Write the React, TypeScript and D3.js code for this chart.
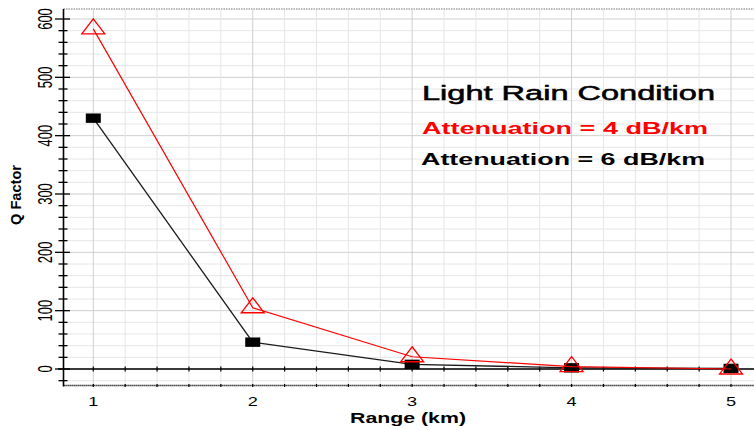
import React from "react";
import * as d3 from "d3";

const ranges = [1, 2, 3, 4, 5];
const redSeries = [583, 105, 21, 4, 0];
const blackSeries = [430, 46, 8, 2, 1];
const xTickLabels = ["1", "2", "3", "4", "5"];
const yTickValues = [0, 100, 200, 300, 400, 500, 600];
const legendTitle = "Light Rain Condition";
const redLabel = "Attenuation = 4 dB/km";
const blackLabel = "Attenuation = 6 dB/km";
const xTitle = "Range (km)";
const yTitle = "Q Factor";

const W = 754;
const H = 430;
const FONT = "'Liberation Sans', Arial, sans-serif";

export default function App() {
  const x = d3.scaleLinear().domain([1, 5]).range([93.3, 731]);
  const y = d3.scaleLinear().domain([0, 600]).range([369, 19]);
  const axisX = 63.5;
  const topY = 9;
  const bottomY = 385.5;

  const vGrid = d3.range(1, 5.21, 0.2);
  const hGrid = d3.range(-20, 601, 20);
  const minorYTicks = d3.range(-20, 601, 20);
  const xMinor = d3.range(1, 5.21, 0.2);

  const line = d3
    .line<number>()
    .x((_, i) => x(ranges[i]))
    .y((d) => y(d));

  const isMajorX = (v: number) => Math.abs(v - Math.round(v)) < 1e-6;
  const isMajorY = (v: number) => Math.abs(v % 100) < 1e-6;

  return (
    <svg
      width={W}
      height={H}
      style={{ position: "absolute", left: 0, top: 0, background: "#fff" }}
      fontFamily={FONT}
    >
      <rect x={0} y={0} width={W} height={H} fill="#fff" />
      {/* top dotted border */}
      <line x1={axisX} x2={W} y1={topY} y2={topY} stroke="#777" strokeWidth={1.2} strokeDasharray="1.5,1" />
      {/* grid */}
      {hGrid.map((v) => (
        <line
          key={"h" + v}
          x1={axisX}
          x2={W}
          y1={y(v)}
          y2={y(v)}
          stroke={isMajorY(v) ? "#cfcfcf" : "#e6e6e6"}
          strokeWidth={1}
        />
      ))}
      {vGrid.map((v) => (
        <line
          key={"v" + v}
          x1={x(v)}
          x2={x(v)}
          y1={topY + 1}
          y2={bottomY}
          stroke={isMajorX(v) ? "#cfcfcf" : "#e6e6e6"}
          strokeWidth={1}
        />
      ))}
      {/* zero line */}
      <line x1={58} x2={W} y1={y(0)} y2={y(0)} stroke="#000" strokeWidth={1.3} />
      {xMinor.map((v) => (
        <line key={"zt" + v} x1={x(v)} x2={x(v)} y1={y(0) - 2.5} y2={y(0) + 2.5} stroke="#000" strokeWidth={1.2} />
      ))}
      {/* bottom dotted line */}
      <line x1={axisX} x2={W} y1={bottomY} y2={bottomY} stroke="#000" strokeWidth={1.6} strokeDasharray="1.2,0.8" />
      {xMinor.map((v) => (
        <line key={"bt" + v} x1={x(v)} x2={x(v)} y1={bottomY - 1.5} y2={bottomY + 1.5} stroke="#000" strokeWidth={1.2} />
      ))}
      {/* y axis */}
      <line x1={axisX} x2={axisX} y1={topY} y2={bottomY + 1} stroke="#000" strokeWidth={1.6} />
      {minorYTicks.map((v) => (
        <line
          key={"yt" + v}
          x1={isMajorY(v) ? 55 : 58.5}
          x2={isMajorY(v) ? 70 : 67.5}
          y1={y(v)}
          y2={y(v)}
          stroke="#000"
          strokeWidth={1.3}
        />
      ))}
      {yTickValues.map((v) => (
        <text
          key={"yl" + v}
          transform={`translate(51.5,${y(v)}) scale(1.5,1) rotate(-90)`}
          textAnchor="middle"
          fontSize={13}
          fill="#000"
        >
          {v}
        </text>
      ))}
      <text
        transform={`translate(20.5,195) scale(1.1,1) rotate(-90)`}
        textAnchor="middle"
        fontSize={13.5}
        fontWeight="bold"
        textLength={60}
        lengthAdjust="spacingAndGlyphs"
        fill="#000"
      >
        {yTitle}
      </text>
      {/* x tick labels */}
      {ranges.map((r, i) => (
        <text
          key={"xl" + r}
          transform={`translate(${x(r)},406) scale(1.45,1)`}
          textAnchor="middle"
          fontSize={12.5}
          fill="#000"
        >
          {xTickLabels[i]}
        </text>
      ))}
      <text x={350} y={423} fontSize={14.5} fontWeight="bold" textLength={116} lengthAdjust="spacingAndGlyphs" fill="#000">
        {xTitle}
      </text>
      {/* black series */}
      <path d={line(blackSeries) || ""} fill="none" stroke="#1a1a1a" strokeWidth={1.3} />
      {blackSeries.map((v, i) => (
        <rect key={"bs" + i} x={x(ranges[i]) - 7.5} y={y(v) - 4.7} width={15} height={9.4} fill="#000" />
      ))}
      {/* red series */}
      <path d={line(redSeries) || ""} fill="none" stroke="#ff0000" strokeWidth={1.2} />
      {redSeries.map((v, i) => {
        const cx = x(ranges[i]);
        const cy = y(v);
        return (
          <path
            key={"rs" + i}
            d={`M${cx},${cy - 10}L${cx + 11.5},${cy + 5}L${cx - 11.5},${cy + 5}Z`}
            fill="none"
            stroke="#ff0000"
            strokeWidth={1.3}
          />
        );
      })}
      {/* legend texts */}
      <text
        x={422}
        y={100}
        fontSize={19.5}
        fill="#000"
        stroke="#000"
        strokeWidth={0.5}
        textLength={293}
        lengthAdjust="spacingAndGlyphs"
      >
        {legendTitle}
      </text>
      <text x={422} y={134} fontSize={17} fontWeight="bold" fill="#ff0000" textLength={286} lengthAdjust="spacingAndGlyphs">
        {redLabel}
      </text>
      <text x={421} y={165} fontSize={17} fontWeight="bold" fill="#000" textLength={284} lengthAdjust="spacingAndGlyphs">
        {blackLabel}
      </text>
    </svg>
  );
}
